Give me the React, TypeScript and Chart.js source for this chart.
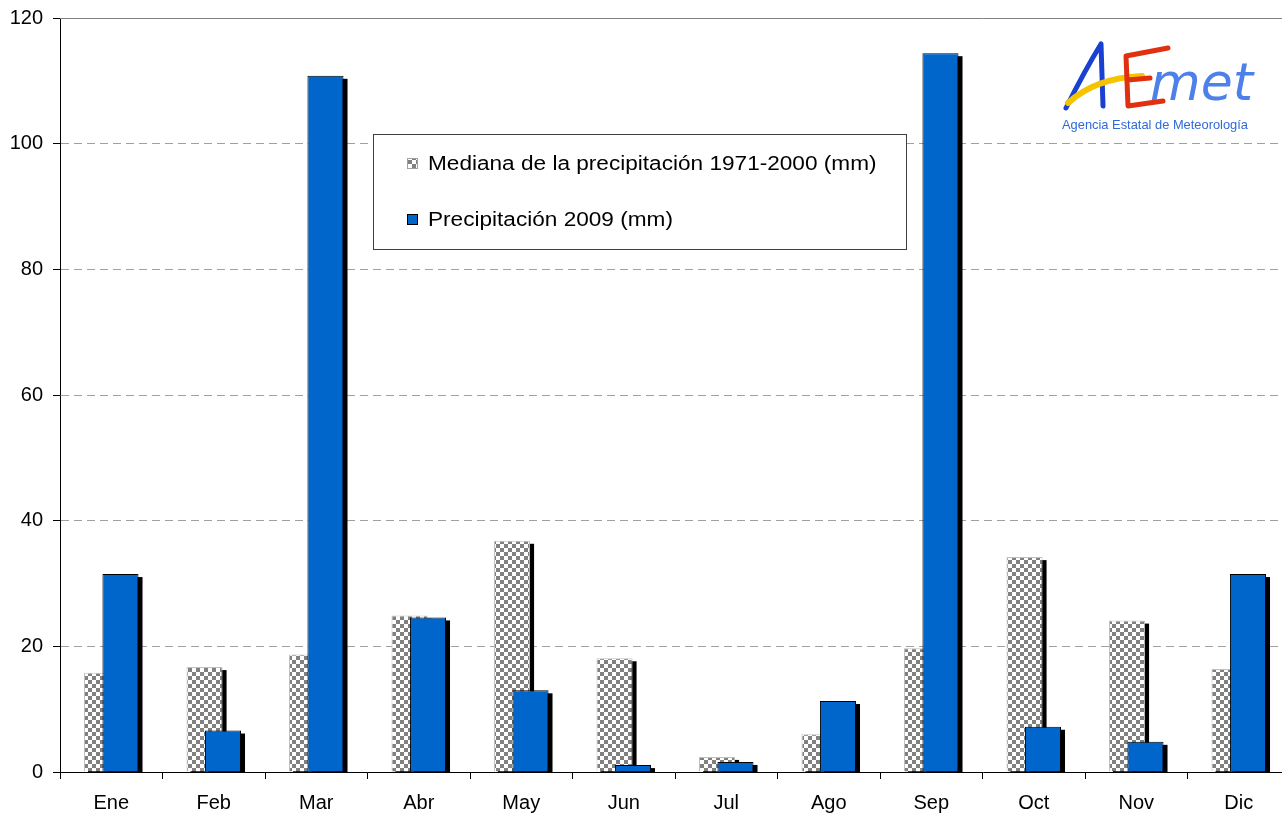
import React, { useEffect, useRef } from "react";
import { Chart, registerables } from "chart.js";

Chart.register(...registerables);

const months = ["Ene", "Feb", "Mar", "Abr", "May", "Jun", "Jul", "Ago", "Sep", "Oct", "Nov", "Dic"];
const median19712000 = [15.8, 16.7, 18.7, 24.9, 36.8, 18.1, 2.4, 6.0, 19.7, 34.2, 24.1, 16.4];
const precip2009 = [31.5, 6.6, 110.8, 24.6, 13.0, 1.1, 1.6, 11.3, 114.4, 7.2, 4.8, 31.5];
const yTickValues = [0, 20, 40, 60, 80, 100, 120];
const seriesLabels = ["Mediana de la precipitación 1971-2000 (mm)", "Precipitación 2009 (mm)"];
const logoSubtitle = "Agencia Estatal de Meteorología";

const FONT = "'Liberation Sans', Arial, sans-serif";
const BLUE = "#0066CC";

function makeChecker(): CanvasPattern | string {
  const c = document.createElement("canvas");
  c.width = 8;
  c.height = 8;
  const g = c.getContext("2d");
  if (!g) return "#999";
  g.fillStyle = "#ffffff";
  g.fillRect(0, 0, 8, 8);
  g.fillStyle = "#808080";
  g.fillRect(0, 0, 4, 4);
  g.fillRect(4, 4, 4, 4);
  const p = g.createPattern(c, "repeat");
  return p || "#999";
}

const shiftPlugin = {
  id: "shiftBars",
  afterDatasetsUpdate(chart: any) {
    const xs = chart.scales.x;
    const catW = xs.width / chart.data.labels.length;
    chart.data.datasets.forEach((ds: any, i: number) => {
      const meta = chart.getDatasetMeta(i);
      const s = (ds.shiftFrac || 0) * catW;
      meta.data.forEach((el: any) => {
        el.x += s;
      });
    });
  },
};

const shadowPlugin = {
  id: "barShadow",
  beforeDatasetDraw(chart: any, args: any) {
    const { ctx, chartArea } = chart;
    ctx.save();
    ctx.beginPath();
    ctx.rect(chartArea.left, chartArea.top - 10, chartArea.right - chartArea.left + 10, chartArea.bottom - chartArea.top + 10);
    ctx.clip();
    ctx.fillStyle = "#000";
    args.meta.data.forEach((el: any) => {
      const { x, y, base, width } = el.getProps(["x", "y", "base", "width"], true);
      ctx.fillRect(x - width / 2 + 4, y + 3, width, base - y);
    });
    ctx.restore();
  },
};

const decorPlugin = {
  id: "decor",
  afterDraw(chart: any) {
    const { ctx, chartArea, scales } = chart;
    const ys = scales.y;
    ctx.save();
    // solid top line at max tick
    const yTop = ys.getPixelForValue(yTickValues[yTickValues.length - 1]);
    ctx.strokeStyle = "#808080";
    ctx.lineWidth = 1;
    ctx.beginPath();
    ctx.moveTo(chartArea.left, Math.round(yTop) + 0.5);
    ctx.lineTo(chartArea.right, Math.round(yTop) + 0.5);
    ctx.stroke();

    // legend box
    const bx = 373.5, by = 134.5, bw = 533, bh = 115;
    ctx.fillStyle = "#fff";
    ctx.fillRect(bx, by, bw, bh);
    ctx.strokeStyle = "#404040";
    ctx.strokeRect(bx, by, bw, bh);
    ctx.font = `20px ${FONT}`;
    ctx.textBaseline = "middle";
    ctx.textAlign = "left";
    const rows = [163, 219];
    const fills = [chart.data.datasets[0].backgroundColor, chart.data.datasets[1].backgroundColor];
    const borders = ["#a0a0a0", "#000"];
    rows.forEach((ry, i) => {
      ctx.fillStyle = fills[i];
      ctx.fillRect(407, ry - 5, 11, 11);
      ctx.strokeStyle = borders[i];
      ctx.strokeRect(407.5, ry - 4.5, 10, 10);
      ctx.fillStyle = "#000";
      ctx.save();
      ctx.translate(428, ry + 1);
      ctx.scale(1.13, 1);
      ctx.fillText(seriesLabels[i], 0, 0);
      ctx.restore();
    });

    // AEMET logo (approximation)
    ctx.lineCap = "round";
    ctx.lineJoin = "round";
    // A (blue)
    ctx.strokeStyle = "#1a40d0";
    ctx.lineWidth = 5;
    ctx.beginPath();
    ctx.moveTo(1066, 108);
    ctx.quadraticCurveTo(1085, 70, 1101, 44);
    ctx.lineTo(1103, 106);
    ctx.stroke();
    // yellow swoosh
    ctx.strokeStyle = "#f5c400";
    ctx.lineWidth = 6;
    ctx.beginPath();
    ctx.moveTo(1068, 103);
    ctx.quadraticCurveTo(1095, 78, 1142, 76);
    ctx.stroke();
    // E (red)
    ctx.strokeStyle = "#e03010";
    ctx.lineWidth = 5;
    ctx.beginPath();
    ctx.moveTo(1168, 48);
    ctx.lineTo(1126, 56);
    ctx.lineTo(1128, 106);
    ctx.lineTo(1163, 101);
    ctx.moveTo(1128, 80);
    ctx.lineTo(1150, 78);
    ctx.stroke();
    // met (light blue)
    ctx.fillStyle = "#4d80e8";
    ctx.font = `italic 52px 'DejaVu Sans', sans-serif`;
    ctx.textBaseline = "alphabetic";
    ctx.fillText("met", 1150, 100, 108);
    // subtitle
    ctx.fillStyle = "#2f6ad8";
    ctx.font = `13px ${FONT}`;
    ctx.fillText(logoSubtitle, 1062, 129, 186);
    ctx.restore();
  },
};

export default function App() {
  const ref = useRef<HTMLCanvasElement | null>(null);
  useEffect(() => {
    if (!ref.current) return;
    const checker = makeChecker();
    const chart = new Chart(ref.current, {
      type: "bar",
      data: {
        labels: months,
        datasets: [
          {
            label: seriesLabels[0],
            data: median19712000,
            backgroundColor: checker as any,
            borderColor: "#c0c0c0",
            borderWidth: 1,
            grouped: false,
            categoryPercentage: 1,
            barPercentage: 0.352,
            order: 1,
            clip: { left: 10, top: 10, right: 10, bottom: 0 } as any,
            shiftFrac: -0.09,
          } as any,
          {
            label: seriesLabels[1],
            data: precip2009,
            backgroundColor: BLUE,
            borderColor: "#000",
            borderWidth: 1,
            grouped: false,
            categoryPercentage: 1,
            barPercentage: 0.352,
            order: 0,
            clip: { left: 10, top: 10, right: 10, bottom: 0 } as any,
            shiftFrac: 0.09,
          } as any,
        ],
      },
      options: {
        animation: false,
        responsive: true,
        maintainAspectRatio: false,
        layout: { padding: { top: 18, left: 0, right: 0, bottom: 0 } },
        plugins: {
          legend: { display: false },
          tooltip: { enabled: false },
        },
        scales: {
          x: {
            offset: true,
            grid: {
              offset: true,
              drawOnChartArea: false,
              drawTicks: true,
              tickLength: 7,
              tickColor: "#000",
              tickWidth: 1,
            },
            border: { display: true, color: "#000", width: 1 },
            ticks: {
              color: "#000",
              font: { family: FONT, size: 20 },
              padding: 12,
              maxRotation: 0,
              autoSkip: false,
            },
            afterFit: (s: any) => {
              s.height = 44;
              s.paddingLeft = 0;
              s.paddingRight = 0;
            },
          },
          y: {
            min: 0,
            max: 120,
            afterBuildTicks: (s: any) => {
              s.ticks = yTickValues.map((v) => ({ value: v }));
            },
            grid: {
              color: "#a0a0a0",
              lineWidth: 1,
              drawTicks: true,
              tickLength: 7,
              tickColor: "#000",
              tickWidth: 1,
            },
            border: { display: true, color: "#000", width: 1, dash: [8, 5] },
            ticks: {
              color: "#000",
              font: { family: FONT, size: 20 },
              padding: 10,
            },
            afterFit: (s: any) => {
              s.width = 60;
              s.paddingTop = 0;
              s.paddingBottom = 0;
            },
          },
        },
      },
      plugins: [shiftPlugin, shadowPlugin, decorPlugin],
    });
    return () => chart.destroy();
  }, []);

  return (
    <div style={{ position: "absolute", left: 0, top: 0, width: 1282, height: 816, overflow: "hidden", background: "#fff" }}>
      <div style={{ position: "relative", width: 1290, height: 816 }}>
        <canvas ref={ref} />
      </div>
    </div>
  );
}
